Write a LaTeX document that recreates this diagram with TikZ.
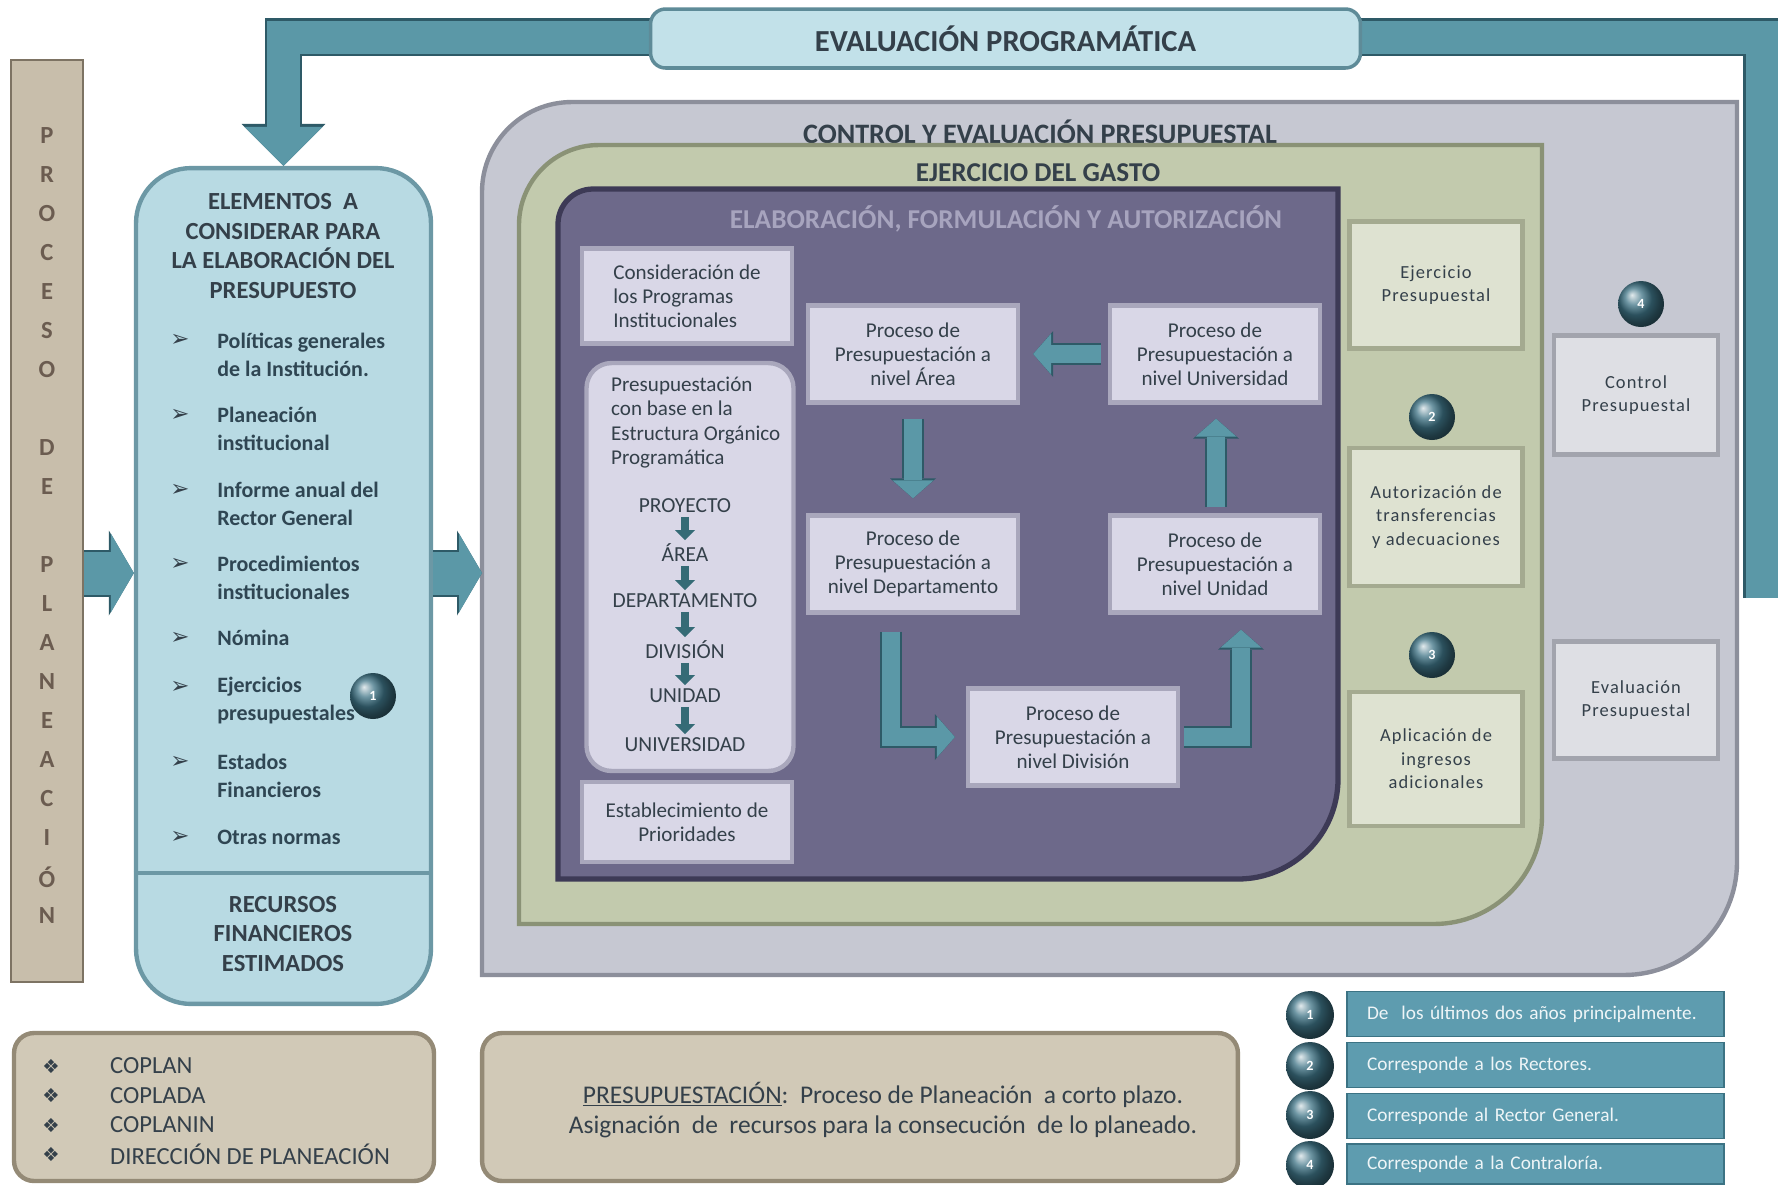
\documentclass[tikz,border=0pt]{standalone}
\usepackage{fontspec}
\setmainfont{Carlito}
\newfontfamily\dingfont{DejaVu Sans}
\usetikzlibrary{arrows.meta, calc}

\definecolor{inkdark}{HTML}{34404A}
\definecolor{inkblue}{HTML}{2F4653}
\definecolor{tealmain}{HTML}{5B98A7}
\definecolor{tealdk}{HTML}{2E5A67}
\definecolor{tealmini}{HTML}{356B76}
\definecolor{banfill}{HTML}{C2E1E9}
\definecolor{banedge}{HTML}{5E8B98}
\definecolor{taupe}{HTML}{C8BEAB}
\definecolor{taupedk}{HTML}{7D7363}
\definecolor{taupetxt}{HTML}{6B5C50}
\definecolor{bluefill}{HTML}{B8DAE3}
\definecolor{blueedge}{HTML}{6C98A5}
\definecolor{ctrlfill}{HTML}{C6C8D2}
\definecolor{ctrledge}{HTML}{8C8F9B}
\definecolor{gastofill}{HTML}{C2CAAD}
\definecolor{gastoedge}{HTML}{8A9276}
\definecolor{elabfill}{HTML}{6D698A}
\definecolor{elabedge}{HTML}{3D3A56}
\definecolor{elabtxt}{HTML}{A7A4BE}
\definecolor{lavfill}{HTML}{D9D7E7}
\definecolor{lavrim}{HTML}{A9A7BC}
\definecolor{sagefill}{HTML}{DEE2D1}
\definecolor{sagerim}{HTML}{A4AA90}
\definecolor{greyfill}{HTML}{DEDFE4}
\definecolor{greyrim}{HTML}{A2A4AD}
\definecolor{tanfill}{HTML}{D1C9B7}
\definecolor{tanrim}{HTML}{948A76}
\definecolor{legfill}{HTML}{5E9CAF}
\definecolor{legedge}{HTML}{3C7384}
\definecolor{legtxt}{HTML}{EEF5F7}
\definecolor{badgeblue}{HTML}{3E7385}

\tikzset{
  banner/.style={draw=banedge, line width=2pt, fill=banfill, rounded corners=0.3cm, minimum width=14.2cm, minimum height=1.18cm, font=\fontsize{17.4}{20}\selectfont\bfseries, text=inkdark},
  procbox/.style={draw=taupedk, line width=1.5pt, fill=taupe, minimum width=1.44cm, minimum height=18.44cm},
  barletter/.style={font=\fontsize{14}{16}\selectfont\bfseries, text=taupetxt},
  elembox/.style={draw=blueedge, line width=2.5pt, fill=bluefill, rounded corners=1.1cm, minimum width=5.9cm, minimum height=16.72cm},
  elemhead/.style={align=center, font=\fontsize{14}{16.9}\selectfont\bfseries, text=inkdark},
  elemitem/.style={anchor=west, align=left, inner sep=0pt, font=\fontsize{12.5}{16}\selectfont\bfseries, text=inkblue},
  arrowbullet/.style={font=\dingfont\fontsize{13}{14}\selectfont, text=inkdark},
  areatitle/.style={font=\fontsize{16}{18}\selectfont\bfseries, text=inkdark},
  ctrlarea/.style={draw=ctrledge, line width=2.5pt, fill=ctrlfill},
  gastoarea/.style={draw=gastoedge, line width=2.5pt, fill=gastofill},
  elabarea/.style={draw=elabedge, line width=3pt, fill=elabfill},
  lavbox/.style={draw=lavrim, line width=2.5pt, fill=lavfill, text=inkdark, font=\fontsize{12}{13.8}\selectfont},
  pbox/.style={lavbox, minimum width=4.2cm, minimum height=1.94cm, align=center, inner sep=0pt},
  hier/.style={font=\fontsize{12.2}{13}\selectfont, text=inkdark, inner sep=1pt},
  sagebox/.style={draw=sagerim, line width=2.5pt, fill=sagefill, minimum width=3.46cm, align=center, text=inkdark, font={\fontsize{10.5}{13.4}\selectfont\addfontfeature{LetterSpace=6}}},
  greybox/.style={sagebox, draw=greyrim, fill=greyfill, minimum width=3.28cm},
  badge/.style={circle, shading=ball, ball color=badgeblue, minimum size=0.92cm, inner sep=0pt, text=white, font=\fontsize{8}{9}\selectfont\bfseries},
  tanbox/.style={draw=tanrim, line width=2.5pt, fill=tanfill, rounded corners=0.4cm, minimum height=2.96cm, text=inkdark, font=\fontsize{14}{16.8}\selectfont},
  orgbul/.style={font=\dingfont\fontsize{11}{12}\selectfont, text=inkdark},
  legbar/.style={draw=legedge, line width=1pt, fill=legfill, minimum width=7.54cm, text width=6.74cm, inner xsep=0.4cm, align=left, text=legtxt, font=\fontsize{11}{13}\selectfont},
  bigarrow/.style={draw=tealmain, line width=0.86cm, -{Triangle[length=0.46cm, width=1.58cm, line width=0pt]}, preaction={draw=tealdk, line width=0.94cm, -{Triangle[length=0.5cm, width=1.7cm, line width=0pt]}}},
  brkarrow/.style={draw=tealmain, line width=0.66cm, -{Triangle[length=0.78cm, width=1.56cm, line width=0pt]}, preaction={draw=tealdk, line width=0.76cm, -{Triangle[length=0.84cm, width=1.68cm, line width=0pt]}}},
  tarrow/.style={draw=tealmain, line width=0.36cm, -{Triangle[length=0.36cm, width=0.82cm, line width=0pt]}, preaction={draw=tealdk, line width=0.44cm, -{Triangle[length=0.4cm, width=0.92cm, line width=0pt]}}},
  minarrow/.style={draw=tealmini, line width=0.16cm, -{Triangle[length=0.2cm, width=0.4cm, line width=0pt]}, shorten <=1pt, shorten >=1pt}
}

\begin{document}
\begin{tikzpicture}[x=0.02cm, y=-0.02cm]
\useasboundingbox (0,0) rectangle (1778,1184);
\fill[white] (0,0) rectangle (1778,1184);

% proceso de planeacion
\node[procbox] (procbar) at (47,521) {};
\foreach \ch/\k in {P/0,R/1,O/2,C/3,E/4,S/5,O/6,D/8,E/9,P/11,L/12,A/13,N/14,E/15,A/16,C/17,I/18,Ó/19,N/20}
  \node[barletter] (ltr\k) at (47,136+39*\k) {\ch};

% control y evaluacion
\draw[ctrlarea] (482,975) -- (482,192) arc[start angle=180, end angle=90, radius=1.8cm] -- (1737,102) -- (1737,862) arc[start angle=0, end angle=-90, radius=2.26cm] -- cycle;
\node[areatitle] (ctrltitle) at (1040,132) {CONTROL Y EVALUACIÓN PRESUPUESTAL};
\coordinate (ctrlwest) at (482,573);

% ejercicio del gasto
\draw[gastoarea] (519,924) -- (519,225) arc[start angle=180, end angle=90, radius=1.6cm] -- (1542,145) -- (1542,816) arc[start angle=0, end angle=-90, radius=2.16cm] -- cycle;
\node[areatitle, font=\fontsize{15.5}{17}\selectfont\bfseries] (gastotitle) at (1038,173) {EJERCICIO DEL GASTO};

% elaboracion
\draw[elabarea] (558,879) -- (558,224) arc[start angle=180, end angle=90, radius=0.7cm] -- (1338,189) -- (1338,779) arc[start angle=0, end angle=-90, radius=2cm] -- cycle;
\node[areatitle, font=\fontsize{15.5}{18}\selectfont\bfseries, text=elabtxt] (elabtitle) at (1006,219) {ELABORACIÓN, FORMULACIÓN Y AUTORIZACIÓN};

% elementos
\node[elembox] (elem) at (283.5,586) {};
\draw[draw=blueedge, line width=2.5pt] (elem.west |- 0,873) -- (elem.east |- 0,873);
\node[elemhead] (elemhead) at (283,246) {ELEMENTOS\ \ A\\CONSIDERAR PARA\\LA ELABORACIÓN DEL\\PRESUPUESTO};
\foreach \by/\iy/\txt [count=\i] in {340/354.5/{Políticas generales\\de la Institución.}, 415/429/{Planeación\\institucional}, 490/504/{Informe anual del\\Rector General}, 564/578/{Procedimientos\\institucionales}, 638/638/{Nómina}, 687/700.5/{Ejercicios\\presupuestales}, 762/775.5/{Estados\\Financieros}, 837/837/{Otras normas}}
{
  \node[arrowbullet] (bul\i) at (180,\by) {➢};
  \node[elemitem] (item\i) at (217,\iy) {\txt};
}
\node[elemhead] (recursos) at (283,934) {RECURSOS\\FINANCIEROS\\ESTIMADOS};

% evaluacion programatica
\coordinate (brkstart) at (1762,598);
\coordinate (brktop) at (1762,37);
\draw[brkarrow] (brkstart) -- (brktop) -| (elem.north);
\node[banner] (evalprog) at (1005.5,38.5) {EVALUACIÓN PROGRAMÁTICA};

% consideracion
\node[lavbox, minimum width=4.2cm, minimum height=1.9cm, align=left, inner sep=0pt] (consid) at (687,296) {Consideración de\\los Programas\\Institucionales};
% estructura
\node[lavbox, rounded corners=0.5cm, minimum width=4.14cm, minimum height=8.16cm] (estruc) at (690,567) {};
\node[lavbox, draw=none, fill=none, align=left, anchor=west, inner sep=0pt] (estrhead) at (609,422.5) {Presupuestación\\con base en la\\Estructura Orgánico\\Programática};
\node[hier] (hproy) at (685,506) {PROYECTO};
\node[hier] (harea) at (685,553) {ÁREA};
\node[hier] (hdepto) at (685,601) {DEPARTAMENTO};
\node[hier] (hdiv) at (685,650) {DIVISIÓN};
\node[hier] (hunid) at (685,696) {UNIDAD};
\node[hier] (huniv) at (685,745) {UNIVERSIDAD};
% prioridades
\node[lavbox, minimum width=4.2cm, minimum height=1.6cm, align=center, inner sep=0pt] (prior) at (687,822) {Establecimiento de\\Prioridades};

% procesos
\node[pbox] (area) at (913,354) {Proceso de\\Presupuestación a\\nivel Área};
\node[pbox] (univ) at (1215,354) {Proceso de\\Presupuestación a\\nivel Universidad};
\node[pbox] (depto) at (913,564) {Proceso de\\Presupuestación a\\nivel Departamento};
\node[pbox] (unidad) at (1215,564) {Proceso de\\Presupuestación a\\nivel Unidad};
\node[pbox] (divis) at (1073,737) {Proceso de\\Presupuestación a\\nivel División};

% ejercicio del gasto
\node[sagebox, minimum height=2.54cm] (ejerc) at (1436,285) {Ejercicio\\Presupuestal};
\node[sagebox, minimum height=2.76cm] (autor) at (1436,517) {Autorización de\\transferencias\\y adecuaciones};
\node[sagebox, minimum height=2.68cm] (aplic) at (1436,759) {Aplicación de\\ingresos\\adicionales};
% control
\node[greybox, minimum height=2.38cm] (control) at (1636,395) {Control\\Presupuestal};
\node[greybox, minimum height=2.34cm] (evalp) at (1636,700) {Evaluación\\Presupuestal};

% badges
\node[badge] (b1) at (373,696) {1};
\node[badge] (b2) at (1432,417) {2};
\node[badge] (b3) at (1432,655) {3};
\node[badge] (b4) at (1641,304) {4};

% flechas
\coordinate (arrowrow) at (0,573);
\draw[bigarrow] (procbar.east |- arrowrow) -- (elem.west |- arrowrow);
\draw[bigarrow] (elem.east |- arrowrow) -- (ctrlwest);
\draw[tarrow, shorten <=0.14cm, shorten >=0.26cm] (univ.west) -- (area.east);
\draw[tarrow, shorten <=0.28cm, shorten >=0.3cm] (area.south) -- (depto.north);
\draw[tarrow, shorten <=0.12cm, shorten >=0.28cm] ([xshift=0.02cm]unidad.north) -- ([xshift=0.02cm]univ.south);
\draw[tarrow, shorten >=0.22cm] ([xshift=-0.44cm, yshift=-0.34cm]depto.south) |- (divis.west);
\draw[tarrow, shorten <=0.08cm, shorten >=0.3cm] (divis.east) -| ([xshift=0.52cm]unidad.south);
\foreach \a/\b in {hproy/harea, harea/hdepto, hdepto/hdiv, hdiv/hunid, hunid/huniv}
  \draw[minarrow] (\a) -- (\b);

% organismos
\node[tanbox, minimum width=8.4cm] (orgsbox) at (224,1107) {};
\foreach \org [count=\i] in {COPLAN, COPLADA, COPLANIN, DIRECCIÓN DE PLANEACIÓN}
{
  \node[orgbul] (obul\i) at (51,1036.5+29.5*\i) {❖};
  \node[tanbox, draw=none, fill=none, minimum height=0pt, inner sep=0pt, anchor=west] (org\i) at (108,1036.5+29.5*\i) {\org};
}
% presupuestacion
\node[tanbox, minimum width=15.12cm] (presupbox) at (860,1107) {};
\node[tanbox, draw=none, fill=none, minimum height=0pt, align=center, font=\fontsize{14.5}{17.6}\selectfont] (presup) at (883,1110) {\underline{PRESUPUESTACIÓN}:\ \ Proceso de Planeación\ \ a corto plazo.\\Asignación\ \ de\ \ recursos para la consecución\ \ de lo planeado.};

% leyenda
\node[legbar, minimum height=0.9cm] (leg1) at (1535.5,1014) {De\ \ los últimos dos años principalmente.};
\node[legbar, minimum height=0.9cm] (leg2) at (1535.5,1065) {Corresponde a los Rectores.};
\node[legbar, minimum height=0.9cm] (leg3) at (1535.5,1116) {Corresponde al Rector General.};
\node[legbar, minimum height=0.8cm] (leg4) at (1535.5,1164) {Corresponde a la Contraloría.};
\node[badge, minimum size=0.96cm] (l1) at (1310,1015) {1};
\node[badge, minimum size=0.96cm] (l2) at (1310,1066) {2};
\node[badge, minimum size=0.96cm] (l3) at (1310,1115) {3};
\node[badge, minimum size=0.96cm] (l4) at (1310,1165) {4};

\end{tikzpicture}
\end{document}
